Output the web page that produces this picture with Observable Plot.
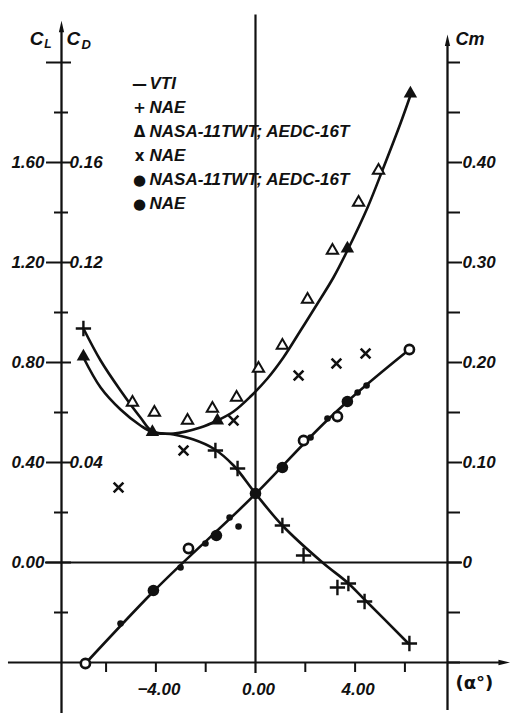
<!DOCTYPE html>
<html>
<head>
<meta charset="utf-8">
<script src="https://cdn.jsdelivr.net/npm/d3@7"></script>
<script src="https://cdn.jsdelivr.net/npm/@observablehq/plot@0.6"></script>
<style>
  body { margin: 0; background: #fff; }
  #chart { width: 515px; height: 720px; }
  #chart svg { font-family: "Liberation Sans", Arial, sans-serif; }
</style>
</head>
<body>
<div id="chart"></div>
<script>
// ---- axis settings (alpha in degrees, left scale in C_L units) ----
const alphaMin = -7.79, alphaMax = 7.71;
const clMin = -0.40, clMax = 2.00;
const cdFactor = 10;   // C_D axis = C_L axis / 10
const cmFactor = 4;    // Cm axis = C_L axis / 4

const clTickLabels = [0, 0.4, 0.8, 1.2, 1.6, 2.0];
const clMinorTicks = [-0.2, 0.2, 0.6, 1.0, 1.4, 1.8];
const cdTickLabels = [0.04, 0.12, 0.16];
const cmMinorTicks = [-0.10, -0.05, 0.05, 0.15, 0.25, 0.35, 0.45, 0.50];
const cmTickLabels = [0, 0.10, 0.20, 0.30, 0.40];
const alphaTicks = [-6, -4, -2, 2, 4, 6];
const alphaTickLabels = [-4, 0, 4];

// ---- VTI computed curves ----
const alphaCdCurve = [-6.91, -6.22, -5.42, -4.62, -4.14, -3.29, -2.21, -1.53, -0.88, -0.20, 0.48, 1.12, 1.81, 2.49, 3.13, 3.69, 4.50, 5.14, 5.82, 6.22];
const cdCurve      = [0.0820, 0.0700, 0.0612, 0.0548, 0.0522, 0.0516, 0.0540, 0.0568, 0.0604, 0.0664, 0.0736, 0.0820, 0.0928, 0.1036, 0.1140, 0.1248, 0.1420, 0.1580, 0.1756, 0.1868];

const alphaCmCurve = [-6.91, -6.22, -5.42, -4.62, -4.14, -3.29, -2.49, -1.69, -0.88, 0.00, 1.08, 2.69, 3.69, 4.34, 6.14];
const cmCurve      = [0.234, 0.202, 0.172, 0.145, 0.131, 0.128, 0.123, 0.114, 0.097, 0.069, 0.037, 0.000, -0.020, -0.036, -0.081];

const alphaClLine = [-6.83, -4.10, 0.00, 2.89, 3.69, 6.18];
const clLine      = [-0.404, -0.116, 0.274, 0.570, 0.644, 0.852];

// ---- test data ----
// + NAE (Cm)
const alphaNaePlus = [-6.91, -1.61, -0.72, 1.08, 1.93, 3.29, 3.73, 4.38, 6.18];
const cmNaePlus    = [0.234, 0.112, 0.094, 0.037, 0.007, -0.025, -0.021, -0.039, -0.081];
// open triangles NASA-11TWT; AEDC-16T (C_D)
const alphaNasaTri = [-4.94, -4.06, -2.73, -1.73, -0.76, 0.12, 1.08, 2.09, 3.09, 4.14, 4.94];
const cdNasaTri    = [0.0640, 0.0600, 0.0568, 0.0616, 0.0660, 0.0776, 0.0868, 0.1052, 0.1248, 0.1440, 0.1568];
// filled triangles on VTI C_D curve
const alphaVtiTri = [-6.91, -4.14, -1.53, 3.69, 6.22];
const cdVtiTri    = [0.0824, 0.0522, 0.0568, 0.1256, 0.1876];
// x NAE (C_D)
const alphaNaeX = [-5.50, -2.89, -0.88, 1.73, 3.25, 4.42];
const cdNaeX    = [0.0300, 0.0448, 0.0568, 0.0748, 0.0796, 0.0836];
// small dots NASA-11TWT; AEDC-16T (C_L)
const alphaNasaDot = [-5.42, -3.01, -2.01, -1.04, -0.68, 2.21, 2.89, 4.10, 4.46];
const clNasaDot    = [-0.244, -0.020, 0.076, 0.180, 0.144, 0.500, 0.576, 0.680, 0.708];
// large dots NAE (C_L)
const alphaNaeDot = [-4.10, -1.57, 0.00, 1.08, 3.69];
const clNaeDot    = [-0.112, 0.108, 0.276, 0.380, 0.644];
// open circles (C_L)
const alphaOpenCircle = [-6.83, -2.69, 1.93, 3.29, 6.18];
const clOpenCircle    = [-0.404, 0.056, 0.488, 0.584, 0.852];

const legendSymbols = ["—", "+", "Δ", "x", "●", "●"];
const legendLabels = ["VTI", "NAE", "NASA-11TWT; AEDC-16T", "NAE", "NASA-11TWT; AEDC-16T", "NAE"];

// ---- drawing ----
const ink = "#111";
const font = {fontFamily: "Liberation Sans, Arial, sans-serif", fontWeight: "bold", fontStyle: "italic", fill: ink};
const pxX = 24.9, pxY = 250; // px per unit, used only for small tick-length offsets
const one = [0];

// slim filled arrowheads
const arrowUp = {draw(ctx, size) { const s = Math.sqrt(size); ctx.moveTo(0, -s); ctx.lineTo(s * 0.33, s * 0.45); ctx.lineTo(-s * 0.33, s * 0.45); ctx.closePath(); }};
const arrowRight = {draw(ctx, size) { const s = Math.sqrt(size); ctx.moveTo(s, 0); ctx.lineTo(-s * 0.45, s * 0.33); ctx.lineTo(-s * 0.45, -s * 0.33); ctx.closePath(); }};

const plot = Plot.plot({
  width: 515,
  height: 720,
  marginLeft: 61,
  marginRight: 68,
  marginTop: 62,
  marginBottom: 58,
  x: {domain: [alphaMin, alphaMax], axis: null},
  y: {domain: [clMin, clMax], axis: null},
  style: {background: "#fff", overflow: "visible"},
  marks: [
    // axes lines
    Plot.ruleX(one, {x: alphaMin, y1: -0.604, y2: 2.13, stroke: ink, strokeWidth: 2.3}),
    Plot.ruleX(one, {x: alphaMax, y1: -0.592, y2: 2.08, stroke: ink, strokeWidth: 2.3}),
    Plot.ruleX(one, {x: 0, y1: -0.444, y2: 2.19, stroke: ink, strokeWidth: 2.2}),
    Plot.ruleY(one, {y: clMin, x1: -9.92, x2: 9.85, stroke: ink, strokeWidth: 2.2}),
    Plot.ruleY(one, {y: 0, x1: alphaMin - 16 / pxX, x2: alphaMax + 14 / pxX, stroke: ink, strokeWidth: 2}),
    // arrowheads
    Plot.dot(one, {x: alphaMin, y: 2.135, symbol: arrowUp, r: 4.5, fill: ink}),
    Plot.dot(one, {x: alphaMax, y: 2.08, symbol: arrowUp, r: 4.5, fill: ink}),
    Plot.dot(one, {x: 9.9, y: clMin, symbol: arrowRight, r: 4.5, fill: ink}),
    // left ticks
    Plot.ruleY(clMinorTicks, {x1: alphaMin - 7 / pxX, x2: alphaMin + 7 / pxX, stroke: ink, strokeWidth: 2}),
    Plot.ruleY(clTickLabels, {x1: alphaMin - 15 / pxX, x2: alphaMin + 10 / pxX, stroke: ink, strokeWidth: 2}),
    // right ticks
    Plot.ruleY(cmMinorTicks, {y: d => d * cmFactor, x1: alphaMax, x2: alphaMax + 13 / pxX, stroke: ink, strokeWidth: 2}),
    Plot.ruleY(cmTickLabels, {y: d => d * cmFactor, x1: alphaMax, x2: alphaMax + 15 / pxX, stroke: ink, strokeWidth: 2}),
    // bottom ticks
    Plot.ruleX(alphaTicks, {y1: clMin, y2: clMin - 10 / pxY, stroke: ink, strokeWidth: 2}),

    // VTI curves
    Plot.line(alphaCdCurve, {x: alphaCdCurve, y: cdCurve.map(v => v * cdFactor), curve: "catmull-rom", stroke: ink, strokeWidth: 2.6}),
    Plot.line(alphaCmCurve, {x: alphaCmCurve, y: cmCurve.map(v => v * cmFactor), curve: "catmull-rom", stroke: ink, strokeWidth: 2.6}),
    Plot.line(alphaClLine, {x: alphaClLine, y: clLine, curve: "monotone-x", stroke: ink, strokeWidth: 2.6}),

    // data markers
    Plot.dot(alphaNasaTri, {x: alphaNasaTri, y: cdNasaTri.map(v => v * cdFactor), symbol: "triangle", r: 4.2, fill: "#fff", stroke: ink, strokeWidth: 2}),
    Plot.dot(alphaVtiTri, {x: alphaVtiTri, y: cdVtiTri.map(v => v * cdFactor), symbol: "triangle", r: 5, fill: ink}),
    Plot.dot(alphaNaeX, {x: alphaNaeX, y: cdNaeX.map(v => v * cdFactor), symbol: "times", r: 4.5, stroke: ink, strokeWidth: 2.6}),
    Plot.dot(alphaNaePlus, {x: alphaNaePlus, y: cmNaePlus.map(v => v * cmFactor), symbol: "plus", r: 5, stroke: ink, strokeWidth: 2.4}),
    Plot.dot(alphaNasaDot, {x: alphaNasaDot, y: clNasaDot, r: 3.3, fill: ink}),
    Plot.dot(alphaNaeDot, {x: alphaNaeDot, y: clNaeDot, r: 5.8, fill: ink}),
    Plot.dot(alphaOpenCircle, {x: alphaOpenCircle, y: clOpenCircle, r: 4.6, fill: "#fff", stroke: ink, strokeWidth: 2.6}),

    // tick labels
    Plot.text(clTickLabels.filter(d => d < 2), {x: alphaMin, y: d => d, text: d => d.toFixed(2), textAnchor: "end", dx: -17, fontSize: 17, ...font}),
    Plot.text(cdTickLabels, {x: alphaMin, y: d => d * cdFactor, text: d => d.toFixed(2), textAnchor: "start", dx: 8, fontSize: 17, ...font}),
    Plot.text(cmTickLabels, {x: alphaMax, y: d => d * cmFactor, text: d => d === 0 ? "0" : d.toFixed(2), textAnchor: "start", dx: 15, fontSize: 17, ...font}),
    Plot.text(alphaTickLabels, {x: d => d, y: clMin, text: d => (d < 0 ? "−" + (-d).toFixed(2) : d.toFixed(2)), dy: 27, dx: 3, fontSize: 17, ...font}),

    // axis titles
    Plot.text(one, {x: alphaMin, y: 2.096, text: () => "C", textAnchor: "end", dx: -18, fontSize: 19, ...font}),
    Plot.text(one, {x: alphaMin, y: 2.072, text: () => "L", textAnchor: "end", dx: -10, fontSize: 12, ...font}),
    Plot.text(one, {x: alphaMin, y: 2.096, text: () => "C", textAnchor: "start", dx: 5, fontSize: 19, ...font}),
    Plot.text(one, {x: alphaMin, y: 2.072, text: () => "D", textAnchor: "start", dx: 20, fontSize: 13, ...font}),
    Plot.text(one, {x: alphaMax, y: 2.092, text: () => "Cm", textAnchor: "start", dx: 8, fontSize: 18, ...font}),
    Plot.text(one, {x: alphaMax, y: clMin, text: () => "(α°)", textAnchor: "start", dx: 8, dy: 21, fontSize: 18, fontFamily: "DejaVu Sans, sans-serif", fontWeight: "bold", fill: ink}),

    // legend
    Plot.text([legendSymbols.join("\n")], {frameAnchor: "top-left", dx: 78, dy: 79, lineAnchor: "middle", lineHeight: 24 / 15, textAnchor: "middle", fontSize: 15, fontFamily: "DejaVu Sans, sans-serif", fontWeight: "bold", fill: ink}),
    Plot.text([legendLabels.join("\n")], {frameAnchor: "top-left", dx: 88, dy: 79, lineAnchor: "middle", lineHeight: 24 / 17, textAnchor: "start", fontSize: 17, ...font})
  ]
});
document.getElementById("chart").appendChild(plot);
</script>
</body>
</html>
